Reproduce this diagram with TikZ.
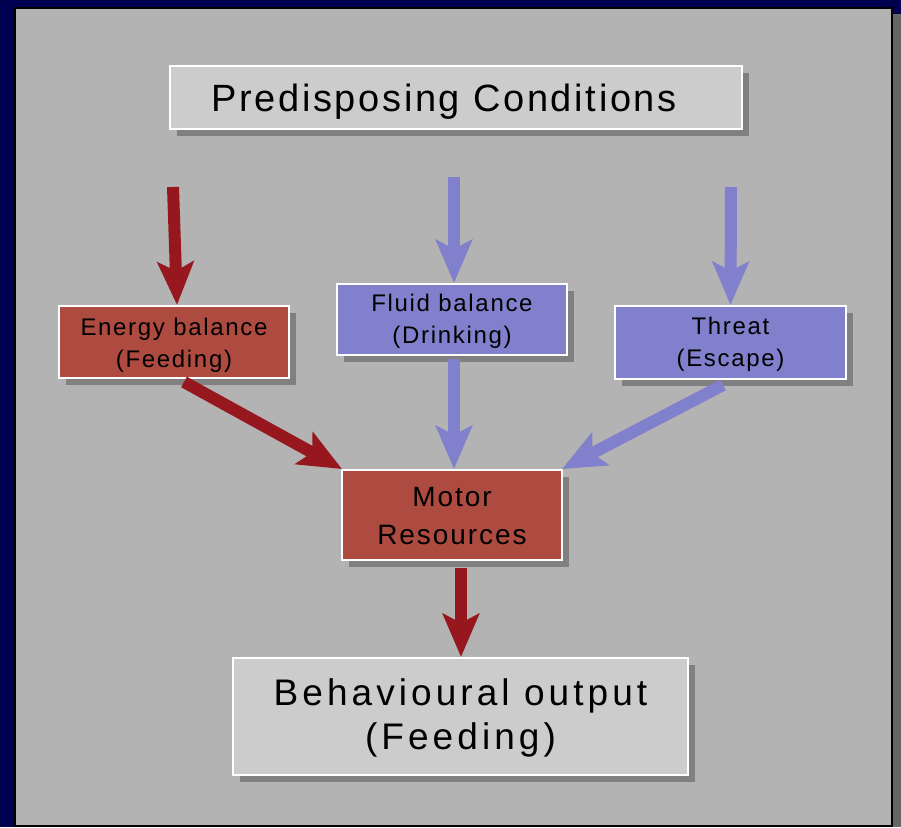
\documentclass[tikz,border=0pt]{standalone}
\usepackage{fontspec}
\setmainfont{Liberation Sans}[LetterSpace=7]
\usetikzlibrary{arrows.meta,shadows}
\definecolor{navy}{RGB}{0,0,80}
\definecolor{panel}{RGB}{179,179,179}
\definecolor{shade}{RGB}{128,128,128}
\definecolor{rustfill}{RGB}{174,75,64}
\definecolor{darkred}{RGB}{150,24,30}
\definecolor{lavender}{RGB}{128,128,204}
\definecolor{lightbox}{RGB}{204,204,204}
\tikzset{
  box/.style={draw=white, line width=2pt, inner sep=0pt,
    drop shadow={shadow xshift=7pt, shadow yshift=-7pt, fill=shade, opacity=1}},
  redbox/.style={box, fill=rustfill},
  bluebox/.style={box, fill=lavender},
  greybox/.style={box, fill=lightbox},
  txt/.style={align=center, text=black, inner sep=0pt},
  smalltxt/.style={txt, font=\fontsize{24}{32}\selectfont},
  redarrow/.style={draw=darkred, line width=12pt, -{Stealth[length=43pt, width=36pt, inset=9pt]}},
  bluearrow/.style={draw=lavender, line width=12pt, -{Stealth[length=43pt, width=36pt, inset=9pt]}},
}
\begin{document}
\begin{tikzpicture}[x=1pt, y=-1pt]
\useasboundingbox (0,0) rectangle (901,827);
\fill[navy] (0,0) rectangle (901,827);
\fill[black!60] (22,14) rectangle (901,827);
\draw[black, line width=2pt, fill=panel] (15,8) rectangle (892,826);

\node[greybox, minimum width=572pt, minimum height=63pt] (pc) at (456,97.5) {};
\node[redbox, minimum width=230pt, minimum height=72pt] (en) at (174,342) {};
\node[bluebox, minimum width=230pt, minimum height=71pt] (fl) at (452,319.5) {};
\node[bluebox, minimum width=231pt, minimum height=73pt] (th) at (730.5,342.5) {};
\node[redbox, minimum width=220pt, minimum height=90pt] (mo) at (452,515) {};
\node[greybox, minimum width=455pt, minimum height=117pt] (bo) at (460.5,716.5) {};

\node[txt, font=\fontsize{38}{44}\selectfont] (pct) at ([xshift=-12pt, yshift=-4pt]pc.center) {Predisposing Conditions};
\node[smalltxt] (ent) at ([yshift=-3pt]en.center) {Energy balance\\(Feeding)};
\node[smalltxt] (flt) at ([yshift=-2pt]fl.center) {Fluid balance\\(Drinking)};
\node[smalltxt] (tht) at ([yshift=-2pt]th.center) {Threat\\(Escape)};
\node[txt, font=\fontsize{28}{38}\selectfont] (mot) at ([yshift=-1pt]mo.center) {Motor\\Resources};
\node[txt, font=\fontsize{37}{44}\selectfont\addfontfeatures{LetterSpace=11}] (bot) at ([yshift=-1pt]bo.center) {Behavioural output\\(Feeding)};

\coordinate (s1) at (173,187);
\coordinate (s2) at (454,177);
\coordinate (s3) at (731,187);
\coordinate (s4) at (184,382);
\coordinate (s5) at (454,359);
\coordinate (s6) at (723,385);
\coordinate (s7) at (461,568);

\draw[redarrow] (s1) -- ([xshift=3pt]en.north);
\draw[bluearrow] (s2) -- ([xshift=2pt]fl.north);
\draw[bluearrow] (s3) -- (th.north);
\draw[redarrow] (s4) -- ([xshift=1pt]mo.north west);
\draw[bluearrow] (s5) -- ([xshift=2pt]mo.north);
\draw[bluearrow] (s6) -- ([xshift=-1pt]mo.north east);
\draw[redarrow] (s7) -- ([xshift=0.5pt]bo.north);
\end{tikzpicture}
\end{document}
